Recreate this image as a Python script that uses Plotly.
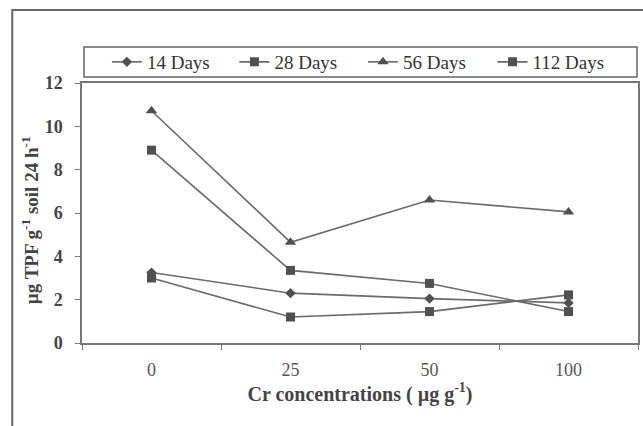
import plotly.graph_objects as go

categories = ["0", "25", "50", "100"]
days14 = [3.25, 2.3, 2.05, 1.85]
days28 = [8.9, 3.35, 2.75, 1.45]
days56 = [10.72, 4.65, 6.6, 6.05]
days112 = [3.0, 1.2, 1.45, 2.22]
series_names = ["14 Days", "28 Days", "56 Days", "112 Days"]
y_ticks = [0, 2, 4, 6, 8, 10, 12]

W, H = 643, 426
L, R, T, B = 82, 3, 83, 83
pw, ph = W - L - R, H - T - B

def px_x(p):
    return (p - L) / pw

def px_y(p):
    return (H - B - p) / ph

FONT = "Times New Roman, Liberation Serif, serif"
line_col = "#6a6a6a"
mk_col = "#505050"

fig = go.Figure()
specs = [
    (days14, "diamond", 8),
    (days28, "square", 9),
    (days56, "triangle-up", 10),
    (days112, "square", 9),
]
legend_ids = ["legend", "legend2", "legend3", "legend4"]
legend_x = [107, 235, 364, 494]
for name, (vals, sym, sz), lid in zip(series_names, specs, legend_ids):
    fig.add_trace(go.Scatter(
        x=categories, y=vals, name=name, mode="lines+markers", legend=lid,
        line=dict(color=line_col, width=1.6),
        marker=dict(symbol=sym, size=sz, color=mk_col, line=dict(width=0)),
    ))

leg_layout = {
    lid: dict(
        x=px_x(lx), orientation="h", xanchor="left", y=px_y(62), yanchor="middle",
        font=dict(family=FONT, size=19, color="#333"),
        bgcolor="rgba(0,0,0,0)", borderwidth=0,
    )
    for lid, lx in zip(legend_ids, legend_x)
}

pad = "<span style='color:white'>0</span>"
fig.update_layout(
    width=W, height=H,
    margin=dict(l=L, r=R, t=T, b=B),
    paper_bgcolor="white", plot_bgcolor="white",
    font=dict(family=FONT, color="#444", size=18),
    showlegend=True,
    **leg_layout,
    xaxis=dict(
        type="category", range=[-0.5, 3.5], tickson="boundaries",
        ticks="outside", ticklen=5, tickcolor="#777",
        showline=True, linecolor="#777", linewidth=1.5, mirror=True,
        showgrid=False, zeroline=False, ticklabelstandoff=10,
        tickfont=dict(family=FONT, size=18, color="#555"),
        title=dict(text="<b>Cr concentrations ( µg g<sup>-1</sup>)</b>",
                   font=dict(family=FONT, size=20, color="#444"), standoff=2),
    ),
    yaxis=dict(
        range=[0, 12], tickvals=y_ticks,
        ticktext=[f"<b>{v}</b>{pad}" for v in y_ticks],
        ticks="outside", ticklen=5, tickcolor="#777",
        showline=True, linecolor="#777", linewidth=1.5, mirror=True,
        showgrid=False, zeroline=False,
        tickfont=dict(family=FONT, size=18, color="#444"),
    ),
    annotations=[
        dict(text="<b>µg TPF g<sup>-1</sup> soil 24 h<sup>-1</sup></b>",
             xref="paper", yref="paper", x=px_x(30), y=px_y(220),
             xanchor="center", yanchor="middle", textangle=-90, showarrow=False,
             font=dict(family=FONT, size=19, color="#444")),
    ],
    shapes=[
        dict(type="rect", xref="paper", yref="paper",
             x0=px_x(12), x1=px_x(700), y0=px_y(500), y1=px_y(10),
             line=dict(color="#666", width=2), layer="below"),
        dict(type="rect", xref="paper", yref="paper",
             x0=px_x(84), x1=px_x(639), y0=px_y(77), y1=px_y(47),
             line=dict(color="#666", width=1.5), layer="below"),
    ],
)

fig.write_html("out.html", config={"displayModeBar": False},
               post_script="document.body.style.margin='0';")
